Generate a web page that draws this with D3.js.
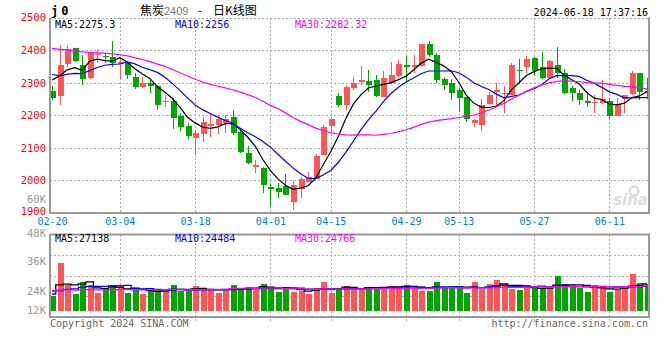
<!DOCTYPE html>
<html>
<head>
<meta charset="utf-8">
<script src="https://cdn.jsdelivr.net/npm/d3@7"></script>
<style>
  body { margin: 0; background: #fff; }
  svg { display: block; }
  text { font-family: "DejaVu Sans Mono", "Liberation Mono", monospace; font-size: 10px; }
</style>
</head>
<body>
<div id="chart"></div>
<script>
// trading days shown (2024)
const dates = [
  "02-20","02-21","02-22","02-23","02-26","02-27","02-28","02-29",
  "03-01","03-04","03-05","03-06","03-07","03-08","03-11","03-12","03-13","03-14","03-15",
  "03-18","03-19","03-20","03-21","03-22","03-25","03-26","03-27","03-28","03-29",
  "04-01","04-02","04-03","04-08","04-09","04-10","04-11","04-12","04-15","04-16","04-17",
  "04-18","04-19","04-22","04-23","04-24","04-25","04-26","04-29","04-30",
  "05-06","05-07","05-08","05-09","05-10","05-13","05-14","05-15","05-16","05-17","05-20",
  "05-21","05-22","05-23","05-24","05-27","05-28","05-29","05-30","05-31",
  "06-03","06-04","06-05","06-06","06-07","06-11","06-12","06-13","06-14","06-17","06-18"
];

const opens = [
  2274,2260,2357,2405,2354,2313,2385,2383,2380,2356,2359,2318,2288,2300,2290,2240,2245,2198,2167,2131,
  2142,2169,2170,2175,2194,2149,2085,2042,2039,1981,1976,1983,1935,1974,1996,2003,2078,2167,2259,2231,
  2283,2306,2305,2308,2257,2298,2321,2354,2347,2352,2420,2385,2311,2298,2277,2257,2177,2170,2234,2274,
  2264,2262,2339,2347,2377,2347,2313,2354,2330,2284,2269,2244,2240,2238,2244,2198,2249,2265,2330,2274
];
const highs = [
  2290,2415,2415,2407,2385,2395,2400,2392,2428,2369,2362,2330,2318,2308,2293,2262,2253,2207,2176,2155,
  2194,2207,2201,2201,2216,2155,2106,2063,2042,1989,1991,2020,1998,2011,2027,2081,2170,2195,2269,2293,
  2318,2351,2339,2323,2336,2364,2369,2382,2385,2418,2428,2392,2318,2311,2284,2257,2190,2250,2272,2298,
  2290,2359,2374,2382,2380,2393,2371,2408,2342,2290,2279,2272,2262,2308,2252,2252,2262,2336,2330,2315
];
const lows = [
  2247,2231,2349,2363,2293,2310,2359,2359,2349,2311,2311,2280,2284,2267,2216,2224,2158,2152,2127,2078,
  2119,2134,2142,2146,2139,2083,2050,2022,1960,1921,1945,1955,1909,1945,1996,2003,2078,2149,2224,2216,
  2279,2293,2272,2257,2257,2296,2313,2303,2329,2349,2379,2298,2277,2247,2211,2180,2163,2152,2231,2231,
  2206,2262,2296,2330,2323,2310,2310,2313,2264,2244,2231,2226,2208,2234,2188,2198,2208,2262,2247,2249
];
const closes = [
  2254,2354,2403,2367,2311,2393,2388,2379,2359,2364,2323,2288,2300,2290,2231,2244,2192,2165,2136,2146,
  2180,2172,2187,2187,2146,2088,2054,2047,1986,1974,1963,1955,1986,2003,2011,2075,2165,2187,2231,2287,
  2300,2308,2293,2260,2313,2323,2357,2347,2354,2418,2385,2308,2293,2267,2254,2187,2185,2231,2262,2277,
  2269,2354,2336,2374,2336,2313,2366,2330,2269,2267,2247,2237,2242,2249,2198,2234,2262,2330,2272,2267
];
const volumes = [
  15300,48300,26000,17000,28700,26000,18300,21700,26000,26000,18300,21000,17000,20000,21700,20000,26000,20000,20000,25000,
  22000,21000,18300,20000,26000,23300,24000,21000,27000,24300,19300,24000,19300,20000,17000,23000,29300,18300,23300,25000,
  21700,23300,23300,24000,24000,25000,24000,26000,24000,20000,20000,29300,24000,25000,22700,18300,29300,21700,27000,31000,
  27000,21700,21000,25000,22700,22700,22000,35000,27000,24300,22700,19000,26000,24000,19000,21000,22700,37000,28300,27000
];

// sessions before 02-20, estimated only so the moving averages start where the picture shows them
const prevCloses = [
  2440,2455,2430,2420,2445,2425,2410,2430,2440,2435,
  2450,2470,2480,2465,2455,2475,2460,2440,2445,2430,
  2390,2360,2340,2320,2300,2290,2310,2335,2351
];
const prevVolumes = [
  22000,20500,23000,21000,19500,22500,24000,21000,20000,22000,
  23500,21500,20000,19000,22000,21000,23000,20500,22000,21000,
  15000,13000,12000,14000,16000,18000,22000,21000,23700
];

const priceTicks = [2500, 2400, 2300, 2200, 2100, 2000, 1900];
const dateTicks = ["02-20","03-04","03-18","04-01","04-15","04-29","05-13","05-27","06-11"];
const volTickLabels = ["60K", "48K", "36K", "24K", "12K"];
const maPeriods = [5, 10, 30];
const maColors = ["#000000", "#0000ff", "#ff00ff"];
const priceLegend = ["MA5:2275.3", "MA10:2256", "MA30:2282.32"];
const volLegend = ["MA5:27138", "MA10:24484", "MA30:24766"];

const width = 660, height = 360;
const left = 50, right = 649;
const pTop = 17.5, pBot = 213;
const vTop = 234.5, vBot = 317, vBase = 311;
const RED = "#ff5555", GREEN = "#00a600", GRID = "#aaaaaa", BORDER = "#999999";

const svg = d3.select("#chart").append("svg")
  .attr("width", width).attr("height", height)
  .attr("viewBox", `0 0 ${width} ${height}`);

const x = d3.scalePoint().domain(dates).range([52, 647]);
const y = d3.scaleLinear().domain([1900, 2500]).range([pBot, pTop]);
const yVol = d3.scaleLinear().domain([0, 48000]).range([vBase, vBase - 48]);

const bars = dates.map((d, i) => ({
  date: d, open: opens[i], high: highs[i], low: lows[i], close: closes[i], vol: volumes[i],
  up: closes[i] >= opens[i]
}));

// moving averages over the prefixed history
function movingAvg(prev, vals, n) {
  const all = prev.concat(vals);
  return vals.map((_, i) => d3.mean(all.slice(prev.length + i - n + 1, prev.length + i + 1)));
}

svg.append("clipPath").attr("id", "clipP")
  .append("rect").attr("x", left).attr("y", pTop).attr("width", right - left).attr("height", pBot - pTop);
svg.append("clipPath").attr("id", "clipV")
  .append("rect").attr("x", left).attr("y", vTop).attr("width", right - left).attr("height", vBot - vTop);

// grids
const grid = svg.append("g").attr("stroke", GRID).attr("stroke-dasharray", "2,2")
  .attr("shape-rendering", "crispEdges");
grid.selectAll(".hp").data(priceTicks.slice(0, -1)).enter().append("line")
  .attr("x1", left).attr("x2", right)
  .attr("y1", d => Math.round(y(d)) + 0.5).attr("y2", d => Math.round(y(d)) + 0.5);
grid.selectAll(".vp").data(dateTicks.slice(1)).enter().append("line")
  .attr("x1", d => Math.round(x(d)) + 0.5).attr("x2", d => Math.round(x(d)) + 0.5)
  .attr("y1", pTop).attr("y2", pBot);
grid.selectAll(".hv").data([1, 2, 3]).enter().append("line")
  .attr("x1", left).attr("x2", right)
  .attr("y1", d => Math.round(vTop + (vBot - vTop) * d / 4) + 0.5)
  .attr("y2", d => Math.round(vTop + (vBot - vTop) * d / 4) + 0.5);
grid.selectAll(".vv").data(dateTicks.slice(1)).enter().append("line")
  .attr("x1", d => Math.round(x(d)) + 0.5).attr("x2", d => Math.round(x(d)) + 0.5)
  .attr("y1", vTop).attr("y2", vBot + 4);

// sina watermark
const wm = svg.append("g").attr("fill", "#dddddd");
wm.append("circle").attr("cx", 634).attr("cy", 191).attr("r", 4.5)
  .attr("fill", "none").attr("stroke", "#e4d0d0").attr("stroke-width", 2);
wm.append("text").attr("x", 648).attr("y", 205).attr("text-anchor", "end")
  .style("font-family", "DejaVu Sans").style("font-size", "15px")
  .style("font-weight", "bold").style("font-style", "italic").text("sina");

// candles
const candles = svg.append("g").attr("clip-path", "url(#clipP)").attr("shape-rendering", "crispEdges");
candles.selectAll(".wick").data(bars).enter().append("line")
  .attr("x1", d => Math.round(x(d.date)) + 0.5).attr("x2", d => Math.round(x(d.date)) + 0.5)
  .attr("y1", d => y(d.high)).attr("y2", d => y(d.low))
  .attr("stroke", d => d.up ? RED : GREEN);
candles.selectAll(".body").data(bars).enter().append("rect")
  .attr("x", d => Math.round(x(d.date)) - 2.5)
  .attr("width", 6)
  .attr("y", d => y(Math.max(d.open, d.close)))
  .attr("height", d => Math.max(1.5, Math.abs(y(d.open) - y(d.close))))
  .attr("fill", d => d.up ? RED : GREEN);

// price moving averages
const maLine = d3.line().x((d, i) => x(dates[i])).y(d => y(d));
maPeriods.forEach((n, k) => {
  svg.append("path").attr("clip-path", "url(#clipP)")
    .attr("d", maLine(movingAvg(prevCloses, closes, n)))
    .attr("fill", "none").attr("stroke", maColors[k]).attr("stroke-width", 1.2);
});

// volume bars
svg.append("g").attr("clip-path", "url(#clipV)").attr("shape-rendering", "crispEdges")
  .selectAll("rect").data(bars).enter().append("rect")
  .attr("x", d => Math.round(x(d.date)) - 2.5)
  .attr("width", 6)
  .attr("y", d => yVol(d.vol))
  .attr("height", d => vBase - yVol(d.vol))
  .attr("fill", d => d.up ? RED : GREEN);

const volLine = d3.line().x((d, i) => x(dates[i])).y(d => yVol(d)).curve(d3.curveStep);
maPeriods.forEach((n, k) => {
  svg.append("path").attr("clip-path", "url(#clipV)")
    .attr("d", volLine(movingAvg(prevVolumes, volumes, n)))
    .attr("fill", "none").attr("stroke", maColors[k]).attr("stroke-width", 1.3);
});

// frames
const frame = svg.append("g").attr("fill", "none").attr("stroke", BORDER).attr("stroke-width", 2);
frame.append("path").attr("d", `M${left},${pTop}V${pBot}H${right}V${pTop}`);
frame.append("path").attr("d", `M${left},${vTop}H${right}V${vBot}H${left}Z`);
svg.append("line").attr("x1", left).attr("x2", right).attr("y1", Math.round(pTop) + 0.5).attr("y2", Math.round(pTop) + 0.5)
  .attr("stroke", GRID).attr("stroke-dasharray", "2,2");

// axes
const yAxis = svg.append("g").attr("transform", `translate(${left},0)`)
  .call(d3.axisLeft(y).tickValues(priceTicks).tickFormat(d3.format("d")).tickSize(0).tickPadding(4));
yAxis.select(".domain").remove();
yAxis.selectAll("text").attr("fill", "#ff0000").style("font-size", "10.5px")
  .style("font-family", "DejaVu Sans Mono");
yAxis.selectAll(".tick").filter(d => d === 1900).select("text").attr("dy", "0.1em");

const xAxis = svg.append("g").attr("transform", `translate(0,${pBot})`)
  .call(d3.axisBottom(x).tickValues(dateTicks).tickSize(0).tickPadding(5));
xAxis.select(".domain").remove();
xAxis.selectAll("text").attr("fill", "#0080d0").style("font-size", "10px")
  .style("font-family", "DejaVu Sans Mono");

const volLabelY = [203, 236.5, 265, 295, 314];
svg.append("g").selectAll("text").data(volTickLabels).enter().append("text")
  .attr("x", 46).attr("y", (d, i) => volLabelY[i]).attr("text-anchor", "end")
  .attr("fill", "#999999").style("font-size", "10.5px").text(d => d);

// legends
[55, 175, 295].forEach((lx, k) => {
  svg.append("text").attr("x", lx).attr("y", 27.5).attr("fill", maColors[k]).text(priceLegend[k]);
  svg.append("text").attr("x", lx).attr("y", 242).attr("fill", maColors[k]).text(volLegend[k]);
});

// header
svg.append("text").attr("x", 51).attr("y", 15).attr("letter-spacing", "3px")
  .style("font-size", "12px").style("font-weight", "bold").text("j0");
const cjk = '"Noto Sans CJK SC", sans-serif';
svg.append("text").attr("x", 140).attr("y", 15).style("font-family", cjk).style("font-size", "12px").text("焦炭");
svg.append("text").attr("x", 164).attr("y", 15).attr("fill", "#777777")
  .style("font-family", "Liberation Sans").style("font-size", "11px").text("2409");
svg.append("text").attr("x", 200).attr("y", 15).attr("text-anchor", "middle")
  .style("font-family", cjk).style("font-size", "12px").text("-");
svg.append("text").attr("x", 213).attr("y", 15).style("font-family", cjk).style("font-size", "12px").text("日K线图");
svg.append("text").attr("x", 648).attr("y", 16).attr("text-anchor", "end").text("2024-06-18 17:37:16");

// footer
svg.append("text").attr("x", 50).attr("y", 327).attr("fill", "#666666").text("Copyright 2024 SINA.COM");
svg.append("text").attr("x", 648).attr("y", 327).attr("text-anchor", "end").attr("fill", "#666666")
  .text("http://finance.sina.com.cn");
</script>
</body>
</html>
